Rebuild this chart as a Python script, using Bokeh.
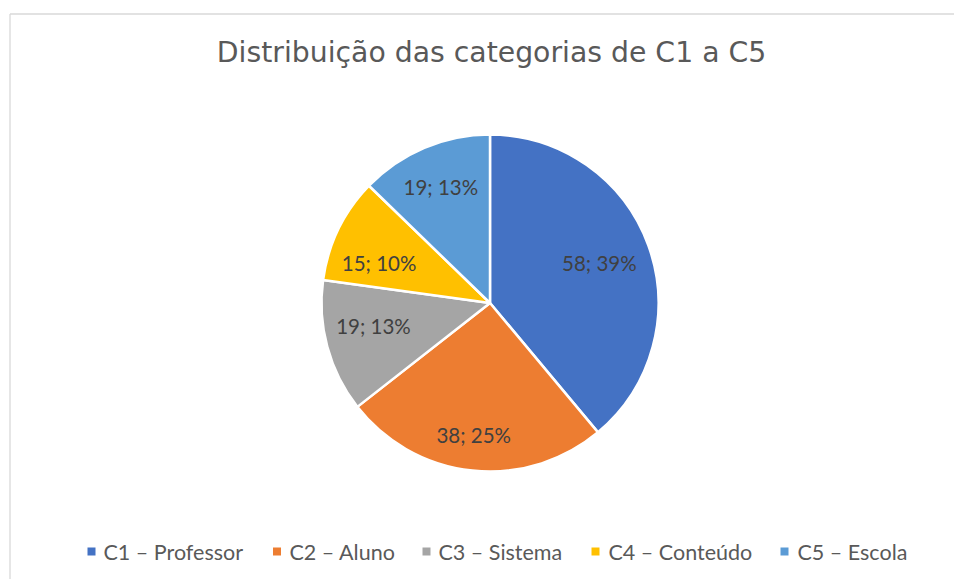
import math
from bokeh.plotting import figure
from bokeh.models import ColumnDataSource, Range1d
from bokeh.core.properties import value
from bokeh.embed import file_html
from bokeh.resources import INLINE

# ---- data ----
categories = ["C1 – Professor", "C2 – Aluno", "C3 – Sistema", "C4 – Conteúdo", "C5 – Escola"]
counts = [58, 38, 19, 15, 19]
percents = [39, 25, 13, 10, 13]
colors = ["#4472C4", "#ED7D31", "#A5A5A5", "#FFC000", "#5B9BD5"]
title_text = "Distribuição das categorias de C1 a C5"

# ---- layout (page pixel geometry) ----
W, H = 954, 579
def X(px):
    return px
def Y(py):
    return H - py

cx, cy, R = X(489.5), Y(302.5), 168.5
label_r = [0.69, 0.787, 0.705, 0.70, 0.748]
label_dang = [0.0, 1.0, 4.0, -6.0, 0.0]   # degrees, clockwise tweak
legend_sq_x = [91, 276.5, 426, 595, 784]
legend_tx_x = [103, 289, 438, 608, 797]
legend_y = 551

p = figure(width=W, height=H, output_backend="svg", toolbar_location=None,
           x_range=Range1d(0, W), y_range=Range1d(0, H),
           min_border=0, min_border_left=0, min_border_right=0,
           min_border_top=0, min_border_bottom=0)
p.axis.visible = False
p.grid.visible = False
p.outline_line_color = None
p.background_fill_color = "white"
p.border_fill_color = "white"

# chart border (only top and left edges are visible in the frame)
p.line([X(9.5), X(960)], [Y(13.5), Y(13.5)], line_color="#D9D9D9", line_width=1.3)
p.line([X(9.5), X(9.5)], [Y(13.5), Y(600)], line_color="#D9D9D9", line_width=1.3)

# pie
total = float(sum(counts))
starts, ends, lx, ly, labels = [], [], [], [], []
cum = 0.0
for i, v in enumerate(counts):
    t1 = cum / total * 2 * math.pi
    cum += v
    t2 = cum / total * 2 * math.pi
    starts.append(math.pi / 2 - t2)
    ends.append(math.pi / 2 - t1)
    tm = (t1 + t2) / 2 + math.radians(label_dang[i])
    phi = math.pi / 2 - tm
    lx.append(cx + label_r[i] * R * math.cos(phi))
    ly.append(cy + label_r[i] * R * math.sin(phi))
    labels.append(f"{v}; {percents[i]}%")

src = ColumnDataSource(dict(start=starts, end=ends, color=colors,
                            lx=lx, ly=ly, label=labels, cat=categories))
p.wedge(x=cx, y=cy, radius=R, start_angle="start", end_angle="end",
        fill_color="color", line_color="white", line_width=2.5, source=src)
p.text(x="lx", y="ly", text="label", source=src, text_align="center",
       text_baseline="middle", text_font=value("Lato"), text_font_size="20.5px",
       text_color="#404040")

# title
p.text(x=[X(491)], y=[Y(52)], text=[title_text], text_align="center",
       text_baseline="middle", text_font=value("DejaVu Sans"),
       text_font_size="28.3px", text_color="#595959")

# legend
leg = ColumnDataSource(dict(sx=[X(v) for v in legend_sq_x],
                            tx=[X(v) for v in legend_tx_x],
                            y=[Y(legend_y)] * len(categories),
                            color=colors, cat=categories))
p.rect(x="sx", y="y", width=8, height=8, fill_color="color", line_color=None, source=leg)
p.text(x="tx", y="y", text="cat", source=leg, text_align="left",
       text_baseline="middle", text_font=value("Lato"), text_font_size="21.5px",
       text_color="#595959")

open("out.html", "w").write(file_html(p, INLINE))
